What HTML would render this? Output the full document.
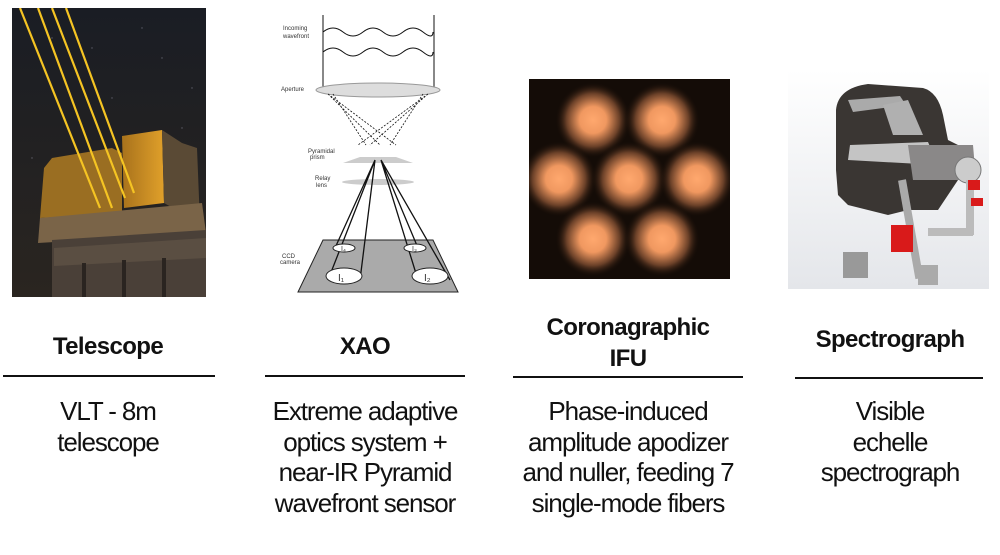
<!DOCTYPE html>
<html><head><meta charset="utf-8"><style>
body{margin:0;width:1000px;height:555px;background:#fff;position:relative;overflow:hidden;font-family:"Liberation Sans",sans-serif;color:#111}
.a{position:absolute}
.t{position:absolute;font-weight:bold;font-size:24px;text-align:center;line-height:30px;letter-spacing:-0.6px}
.d{position:absolute;font-size:26px;text-align:center;line-height:30.5px;letter-spacing:-1.1px}
.l{position:absolute;height:2px;background:#111}
</style></head><body>

<!-- Telescope image -->
<svg class="a" style="left:12px;top:8px" width="194" height="289" viewBox="0 0 194 289">
<defs><linearGradient id="sky" x1="0" y1="0" x2="0" y2="1"><stop offset="0" stop-color="#1a1d24"/><stop offset="1" stop-color="#2a2520"/></linearGradient>
<linearGradient id="gold" x1="0" y1="0" x2="1" y2="0"><stop offset="0" stop-color="#a8721c"/><stop offset="1" stop-color="#e0a02a"/></linearGradient></defs>
<rect width="194" height="289" fill="url(#sky)"/>
<g fill="#889" opacity=".6"><circle cx="40" cy="30" r=".7"/><circle cx="150" cy="50" r=".7"/><circle cx="100" cy="90" r=".7"/><circle cx="170" cy="120" r=".7"/><circle cx="20" cy="150" r=".7"/><circle cx="130" cy="20" r=".7"/><circle cx="80" cy="40" r=".7"/><circle cx="180" cy="80" r=".7"/></g>
<path d="M40 150 L100 140 L110 145 L110 205 L28 210 L32 160Z" fill="#9a6e22"/>
<path d="M110 128 L150 122 L152 195 L112 200Z" fill="url(#gold)"/>
<path d="M150 122 L170 135 L185 140 L188 215 L152 195Z" fill="#5a4a35"/>
<path d="M28 210 L190 195 L194 225 L26 235Z" fill="#7a6448"/>
<path d="M40 232 L194 222 L194 289 L40 289Z" fill="#4a4038"/>
<path d="M42 240 L194 230 L194 250 L42 258Z" fill="#5a4e42"/>
<g fill="#2a2420"><rect x="70" y="255" width="4" height="34"/><rect x="110" y="252" width="4" height="37"/><rect x="150" y="250" width="4" height="39"/></g>
<g stroke="#f5c423" stroke-width="2.2"><line x1="8" y1="0" x2="88" y2="200"/><line x1="26" y1="0" x2="100" y2="200"/><line x1="40" y1="0" x2="113" y2="190"/><line x1="54" y1="0" x2="122" y2="185"/></g>
</svg>

<!-- XAO diagram -->
<svg class="a" style="left:278px;top:10px" width="190" height="285" viewBox="0 0 190 285" font-family="Liberation Sans,sans-serif" font-size="6" fill="#333">
<text x="5" y="20">Incoming</text><text x="5" y="28">wavefront</text>
<text x="3" y="81">Aperture</text>
<text x="30" y="143">Pyramidal</text><text x="32" y="149">prism</text>
<text x="37" y="170">Relay</text><text x="38" y="177">lens</text>
<text x="4" y="248">CCD</text><text x="2" y="254">camera</text>
<g fill="none" stroke="#111" stroke-width="1">
<line x1="45" y1="5" x2="45" y2="80"/><line x1="156" y1="5" x2="156" y2="80"/>
<path d="M45 22 q10 -8 20 0 t20 0 t20 0 t20 0 t20 0 t10 0"/>
<path d="M45 42 q10 -8 20 0 t20 0 t20 0 t20 0 t20 0 t10 0"/>
</g>
<ellipse cx="100" cy="80" rx="62" ry="7" fill="#ddd" stroke="#999"/>
<g stroke="#111" stroke-width=".8" stroke-dasharray="2 1.5" fill="none">
<path d="M50 84 L102 135 M50 84 L118 135 M150 84 L92 135 M150 84 L80 135 M55 84 L88 135 M145 84 L112 135"/></g>
<path d="M82 147 L118 147 L135 153 L65 153Z" fill="#ccc"/>
<ellipse cx="100" cy="172" rx="36" ry="3" fill="#ccc"/>
<path d="M20 282 L45 230 L155 230 L180 282Z" fill="#aaa" stroke="#222"/>
<g stroke="#111" stroke-width="1.3" fill="none"><path d="M97 150 L50 270 M97 150 L82 270 M103 150 L140 270 M103 150 L172 270 M97 150 L57 238 M103 150 L140 238"/></g>
<ellipse cx="66" cy="266" rx="18" ry="8" fill="#fff" stroke="#222"/>
<ellipse cx="152" cy="266" rx="18" ry="8" fill="#fff" stroke="#222"/>
<ellipse cx="66" cy="238" rx="11" ry="4" fill="#fff" stroke="#222"/>
<ellipse cx="137" cy="238" rx="11" ry="4" fill="#fff" stroke="#222"/>
<text x="60" y="271" font-size="10">I₁</text><text x="146" y="271" font-size="10">I₂</text>
<text x="63" y="241" font-size="7">I₄</text><text x="134" y="241" font-size="7">I₃</text>
</svg>

<!-- IFU -->
<svg class="a" style="left:529px;top:79px" width="201" height="200" viewBox="0 0 201 200">
<defs><radialGradient id="sp"><stop offset="0" stop-color="#ffa86e"/><stop offset=".35" stop-color="#f09860"/><stop offset=".7" stop-color="#6a4028"/><stop offset="1" stop-color="#120a05" stop-opacity="0"/></radialGradient></defs>
<rect width="201" height="200" fill="#140c07"/>
<g fill="url(#sp)"><circle cx="64" cy="41" r="38"/><circle cx="133" cy="41" r="38"/><circle cx="30" cy="100" r="38"/><circle cx="100" cy="100" r="38"/><circle cx="168" cy="100" r="38"/><circle cx="64" cy="160" r="38"/><circle cx="133" cy="160" r="38"/></g>
</svg>

<!-- Spectrograph -->
<svg class="a" style="left:788px;top:70px" width="201" height="219" viewBox="0 0 201 219">
<defs><linearGradient id="bg" x1="0" y1="0" x2="0" y2="1"><stop offset="0" stop-color="#fff"/><stop offset="1" stop-color="#e4e6ea"/></linearGradient></defs>
<rect width="201" height="219" fill="url(#bg)"/>
<path d="M48 40 Q50 18 80 14 L135 18 Q150 22 155 45 L160 70 L170 75 L170 110 L150 140 L120 140 L100 145 L60 135 L50 125 L48 100Z" fill="#3a3633"/>
<path d="M60 30 L112 26 L118 35 L65 42Z" fill="#aaa"/>
<path d="M62 75 L140 72 L150 95 L60 90Z" fill="#c4c4c4"/>
<path d="M95 35 L120 30 L135 65 L105 65Z" fill="#b0b0b0"/>
<path d="M120 75 L185 75 L188 110 L125 110Z" fill="#8a8888"/>
<circle cx="180" cy="100" r="13" fill="#ccc" stroke="#777"/>
<rect x="110" y="110" width="8" height="100" fill="#aaa" transform="rotate(-10 114 110)"/>
<rect x="140" y="158" width="45" height="8" fill="#bbb"/><rect x="178" y="110" width="8" height="55" fill="#bbb"/>
<rect x="103" y="155" width="22" height="27" fill="#d91a1a"/>
<rect x="180" y="110" width="12" height="10" fill="#d91a1a"/><rect x="183" y="128" width="12" height="8" fill="#d91a1a"/>
<rect x="55" y="182" width="25" height="26" fill="#999"/>
<rect x="130" y="195" width="20" height="20" fill="#aaa"/>
</svg>

<div class="t" style="left:0;width:216px;top:332px">Telescope</div>
<div class="t" style="left:265px;width:200px;top:332px">XAO</div>
<div class="t" style="left:513px;width:230px;top:312px;line-height:31px">Coronagraphic<br>IFU</div>
<div class="t" style="left:795px;width:190px;top:325px">Spectrograph</div>

<div class="l" style="left:3px;width:212px;top:375px"></div>
<div class="l" style="left:265px;width:200px;top:375px"></div>
<div class="l" style="left:513px;width:230px;top:376px"></div>
<div class="l" style="left:795px;width:188px;top:377px"></div>

<div class="d" style="left:-10px;width:236px;top:396px">VLT - 8m<br>telescope</div>
<div class="d" style="left:245px;width:240px;top:396px">Extreme adaptive<br>optics system +<br>near-IR Pyramid<br>wavefront sensor</div>
<div class="d" style="left:498px;width:260px;top:396px">Phase-induced<br>amplitude apodizer<br>and nuller, feeding 7<br>single-mode fibers</div>
<div class="d" style="left:785px;width:210px;top:396px">Visible<br>echelle<br>spectrograph</div>
</body></html>
